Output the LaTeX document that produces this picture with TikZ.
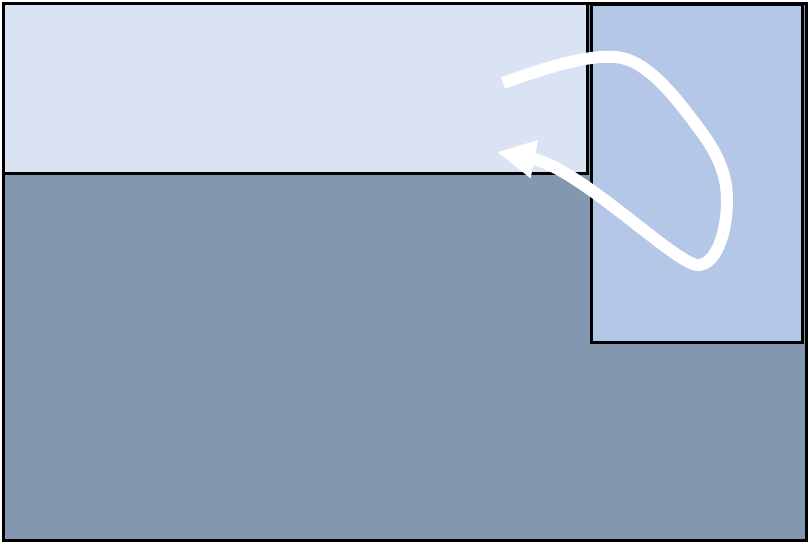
\documentclass[tikz,border=0pt]{standalone}
\usetikzlibrary{arrows.meta,positioning}
\definecolor{slab}{HTML}{8497B0}
\definecolor{paleband}{HTML}{DAE3F3}
\definecolor{sidebox}{HTML}{B4C7E7}
\tikzset{
  panel/.style={
    shape = rectangle,
    draw,
    line width = 3pt,
    inner sep = 0pt,
    outer sep = 0pt,
    anchor = north west
  },
  swirl/.style={
    draw = white,
    line width = 12pt,
    line join = round,
    -{Triangle[length=38pt,width=36pt]}
  },
}

\begin{document}
\begin{tikzpicture}[x=1pt,y=-1pt]
    \useasboundingbox (0,0) rectangle (808,544);
    \node[panel, fill=slab, minimum width=803pt, minimum height=537pt] (base) at (3,3) {};
    \node[panel, fill=paleband, minimum width=584pt, minimum height=170pt] (band) at (3,3) {};
    \node[panel, fill=sidebox, minimum width=211pt, minimum height=338pt] (side) at (591,4) {};
    % the white loop
    \coordinate (tail) at (503,83);
    \coordinate (tip) at (497,152);
    \draw[swirl] (tail) .. controls (550,66) and (588,55) .. (615,57)
        .. controls (645,59) and (672,92) .. (700,130)
        .. controls (718,154) and (727,175) .. (727,200)
        .. controls (727,235) and (715,265) .. (698,265)
        .. controls (676,265) and (580,168) .. (tip);
\end{tikzpicture}
\end{document}
